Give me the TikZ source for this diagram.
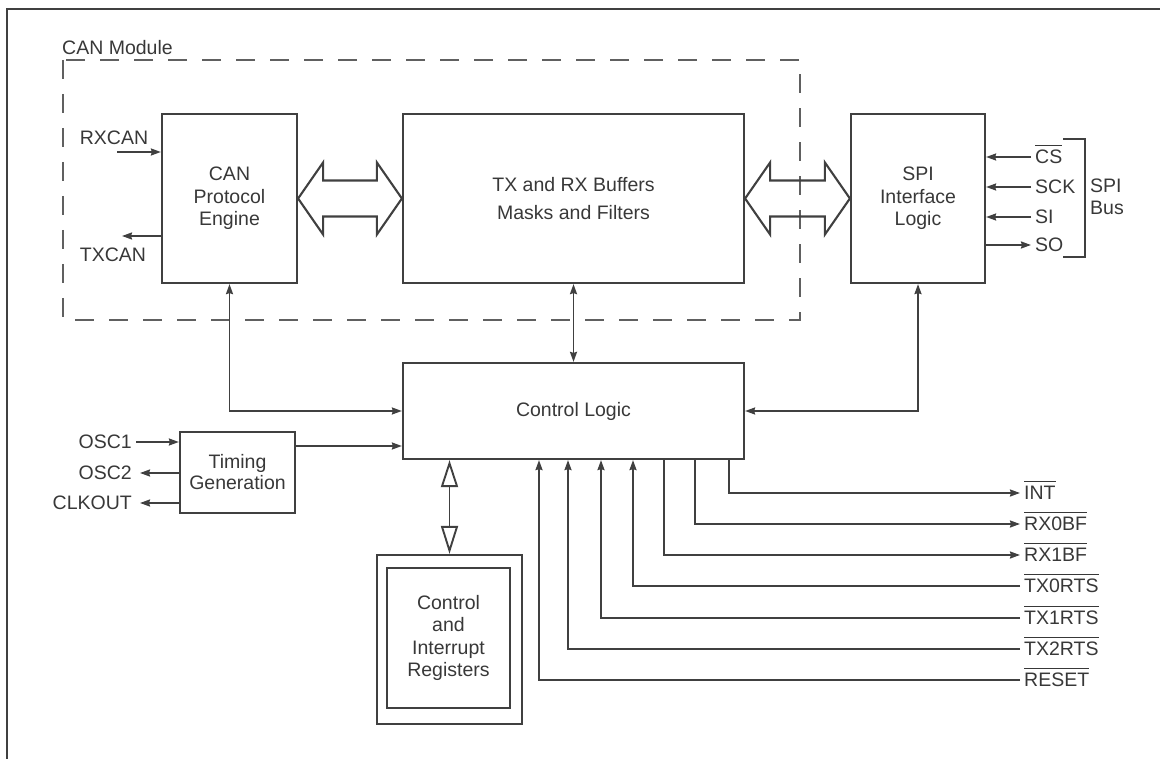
\documentclass[tikz,border=0pt]{standalone}
\usepackage{fontspec}
\setmainfont{Liberation Sans}
\usetikzlibrary{arrows.meta,calc}
\definecolor{ink}{HTML}{383838}
\definecolor{wire}{HTML}{404040}
\definecolor{dashgray}{HTML}{606060}
% active-low signal names: bar drawn above the capitals without changing the box height
\newsavebox\ovlbox
\newcommand\ovl[1]{\sbox\ovlbox{#1}\rlap{\smash{\rule[0.90em]{\wd\ovlbox}{1.4pt}}}\usebox\ovlbox}
\begin{document}
\begin{tikzpicture}[x=1pt,y=-1pt,
  font=\fontsize{19.5}{22.5}\selectfont, text=ink,
  block/.style={draw=wire, line width=2.2pt, inner sep=0pt, align=center},
  wireln/.style={draw=wire, line width=1.9pt},
  tip/.style={-{Stealth[length=10pt,width=7pt,inset=1pt]}},
  tips/.style={{Stealth[length=10pt,width=7pt,inset=1pt]}-{Stealth[length=10pt,width=7pt,inset=1pt]}},
  busarrow/.style={draw=wire, line width=2.1pt, line join=miter},
  sig/.style={inner xsep=4pt, inner ysep=0pt}]
\useasboundingbox (0,0) rectangle (1160,759);

% page frame
\draw[draw=wire, line width=2.4pt] (7,775) -- (7,9) -- (1175,9);

% CAN module boundary
\draw[draw=dashgray, line width=2.3pt, dash pattern=on 19pt off 15pt] (63,60) rectangle (800,320);
\node[anchor=base west, inner sep=0pt] (canm) at (62,55) {CAN Module};

% blocks
\node[block, minimum width=135pt, minimum height=169pt] (cpe) at (229.5,198.5) {CAN\\Protocol\\Engine};
\node[block, minimum width=341pt, minimum height=169pt] (buf) at (573.5,198.5) {TX and RX Buffers\\[6pt]Masks and Filters};
\node[block, minimum width=134pt, minimum height=169pt] (spi) at (918,198.5) {SPI\\Interface\\Logic};
\node[block, minimum width=341pt, minimum height=96pt] (ctl) at (573.5,411) {Control Logic};
\node[block, minimum width=115pt, minimum height=81pt] (tim) at (237.5,472.5) {Timing\\[-1.5pt]Generation};
\node[block, minimum width=145pt, minimum height=169pt] (rego) at (449.5,639.5) {};
\node[block, minimum width=123pt, minimum height=140pt] (regi) at (448.5,638) {Control\\and\\Interrupt\\Registers};

% wide bidirectional bus arrows
\draw[busarrow] (cpe.east) -- ++(25,-36) -- ++(0,18) -- ($(buf.west)+(-25,-18)$) -- ++(0,-18)
  -- (buf.west) -- ++(-25,36) -- ++(0,-18) -- ($(cpe.east)+(25,18)$) -- ++(0,18) -- cycle;
\draw[busarrow] (buf.east) -- ++(25,-36) -- ++(0,18) -- ($(spi.west)+(-25,-18)$) -- ++(0,-18)
  -- (spi.west) -- ++(-25,36) -- ++(0,-18) -- ($(buf.east)+(25,18)$) -- ++(0,18) -- cycle;

% CAN bus pins
\node[inner sep=0pt] (rxcan) at (114,137.5) {RXCAN};
\node[inner sep=0pt] (txcan) at (113,255) {TXCAN};
\coordinate (rxin) at (117,152);
\coordinate (txout) at (122,236);
\draw[wireln, tip] (rxin) -- (cpe.west |- rxin);
\draw[wireln, tip] (cpe.west |- txout) -- (txout);

% links to the control logic
\draw[wireln, tips] (cpe.south) |- (ctl.west);
\draw[wireln, tips] (buf.south) -- (ctl.north);
\draw[wireln, tips] (spi.south) |- (ctl.east);
\coordinate (timy) at (0,446);
\draw[wireln, tip] (tim.east |- timy) -- (ctl.west |- timy);
\draw[draw=wire, line width=1.9pt,
  {Triangle[open,length=27pt,width=17pt]}-{Triangle[open,length=28pt,width=17pt]}]
  (rego.north |- ctl.south) -- (rego.north);

% oscillator pins
\node[sig, anchor=east] (osc1) at (136,442) {OSC1};
\node[sig, anchor=east] (osc2) at (136,473) {OSC2};
\node[sig, anchor=east] (clko) at (136,503) {CLKOUT};
\draw[wireln, tip] (osc1.east) -- (tim.west |- osc1);
\draw[wireln, tip] (tim.west |- osc2) -- ($(osc2.east)+(4,0)$);
\draw[wireln, tip] (tim.west |- clko) -- ($(clko.east)+(4,0)$);

% SPI pins
\node[sig, anchor=west] (cs) at (1031,157) {\ovl{CS}};
\node[sig, anchor=west] (sck) at (1031,187) {SCK};
\node[sig, anchor=west] (si) at (1031,217) {SI};
\node[sig, anchor=west] (so) at (1031,245) {SO};
\draw[wireln, tip] (cs.west) -- (spi.east |- cs);
\draw[wireln, tip] (sck.west) -- (spi.east |- sck);
\draw[wireln, tip] (si.west) -- (spi.east |- si);
\draw[wireln, tip] (spi.east |- so) -- (so.west);
\draw[wireln] (1063,139) -- (1085,139) -- (1085,257) -- (1063,257);
\node[anchor=west, align=left, inner sep=0pt] (bus) at (1090,197) {SPI\\[-1pt]Bus};

% interrupt, buffer-full and request-to-send pins
\node[sig, anchor=west] (int) at (1020,493) {\ovl{INT}};
\node[sig, anchor=west] (rx0) at (1020,524) {\ovl{RX0BF}};
\node[sig, anchor=west] (rx1) at (1020,555) {\ovl{RX1BF}};
\node[sig, anchor=west] (tx0) at (1020,586) {\ovl{TX0RTS}};
\node[sig, anchor=west] (tx1) at (1020,618) {\ovl{TX1RTS}};
\node[sig, anchor=west] (tx2) at (1020,649) {\ovl{TX2RTS}};
\node[sig, anchor=west] (rst) at (1020,680) {\ovl{RESET}};
\coordinate (xint) at (729,0);
\coordinate (xrx0) at (695,0);
\coordinate (xrx1) at (664,0);
\coordinate (xtx0) at (633,0);
\coordinate (xtx1) at (601,0);
\coordinate (xtx2) at (568,0);
\coordinate (xrst) at (539,0);
\draw[wireln, tip] (xint |- ctl.south) |- (int.west);
\draw[wireln, tip] (xrx0 |- ctl.south) |- (rx0.west);
\draw[wireln, tip] (xrx1 |- ctl.south) |- (rx1.west);
\draw[wireln, tip] (tx0.west) -| (xtx0 |- ctl.south);
\draw[wireln, tip] (tx1.west) -| (xtx1 |- ctl.south);
\draw[wireln, tip] (tx2.west) -| (xtx2 |- ctl.south);
\draw[wireln, tip] (rst.west) -| (xrst |- ctl.south);
\end{tikzpicture}
\end{document}
